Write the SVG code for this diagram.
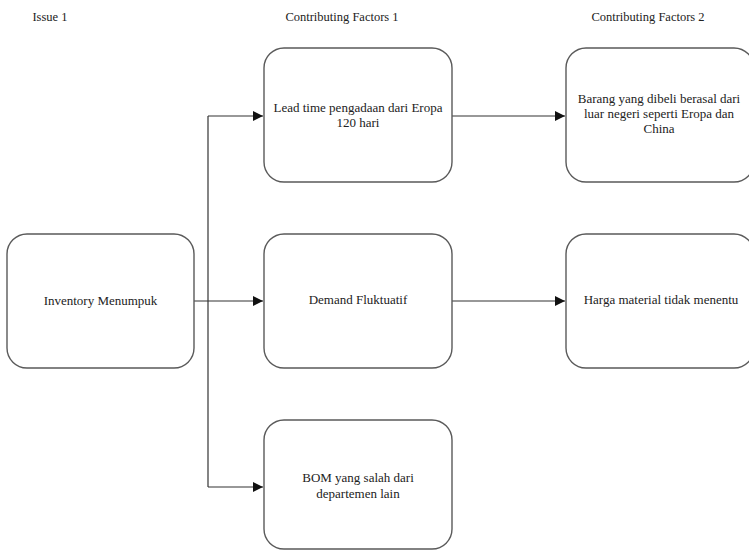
<svg xmlns="http://www.w3.org/2000/svg" width="749" height="551" viewBox="0 0 749 551">
  <style>
    .box { fill: #ffffff; stroke: #5a5a5a; stroke-width: 1.4; }
    .lbl { font-family: "Liberation Serif", "Times New Roman", serif; font-size: 13px; fill: #222222; text-anchor: middle; }
    .hdr { font-family: "Liberation Serif", "Times New Roman", serif; font-size: 12.5px; fill: #222222; text-anchor: middle; }
    .wire { fill: none; stroke: #333333; stroke-width: 1.2; }
  </style>
  <defs>
    <marker id="arrow" viewBox="0 0 10 10" refX="10" refY="5" markerWidth="10" markerHeight="10" markerUnits="userSpaceOnUse" orient="auto">
      <path d="M0,0 L10,5 L0,10 Z" fill="#111111"/>
    </marker>
  </defs>
  <rect width="749" height="551" fill="#ffffff"/>

  <!-- column headings -->
  <g id="headings">
    <text class="hdr" x="50" y="21">Issue 1</text>
    <text class="hdr" x="342" y="21">Contributing Factors 1</text>
    <text class="hdr" x="648" y="21">Contributing Factors 2</text>
  </g>

  <!-- connectors -->
  <g id="connectors">
    <line class="wire" x1="194" y1="301" x2="263" y2="301" marker-end="url(#arrow)"/>
    <line class="wire" x1="208" y1="116" x2="208" y2="487"/>
    <line class="wire" x1="208" y1="116" x2="263" y2="116" marker-end="url(#arrow)"/>
    <line class="wire" x1="208" y1="487" x2="263" y2="487" marker-end="url(#arrow)"/>
    <line class="wire" x1="452" y1="116" x2="565" y2="116" marker-end="url(#arrow)"/>
    <line class="wire" x1="452" y1="301" x2="565" y2="301" marker-end="url(#arrow)"/>
  </g>

  <g id="inventory">
    <rect class="box" x="7" y="234" width="187" height="134" rx="20"/>
    <text class="lbl" x="100.5" y="305">Inventory Menumpuk</text>
  </g>

  <g id="lead-time">
    <rect class="box" x="264" y="48" width="188" height="134" rx="20"/>
    <text class="lbl" x="358" y="112">Lead time pengadaan dari Eropa</text>
    <text class="lbl" x="358" y="127">120 hari</text>
  </g>

  <g id="demand">
    <rect class="box" x="264" y="234" width="188" height="134" rx="20"/>
    <text class="lbl" x="358" y="304">Demand Fluktuatif</text>
  </g>

  <g id="bom">
    <rect class="box" x="264" y="420" width="188" height="129" rx="20"/>
    <text class="lbl" x="358" y="482">BOM yang salah dari</text>
    <text class="lbl" x="358" y="498">departemen lain</text>
  </g>

  <g id="barang">
    <rect class="box" x="566" y="48" width="188" height="134" rx="20"/>
    <text class="lbl" x="659" y="103">Barang yang dibeli berasal dari</text>
    <text class="lbl" x="659" y="118">luar negeri seperti Eropa dan</text>
    <text class="lbl" x="659" y="133">China</text>
  </g>

  <g id="harga">
    <rect class="box" x="566" y="234" width="188" height="134" rx="20"/>
    <text class="lbl" x="661" y="304">Harga material tidak menentu</text>
  </g>
</svg>
